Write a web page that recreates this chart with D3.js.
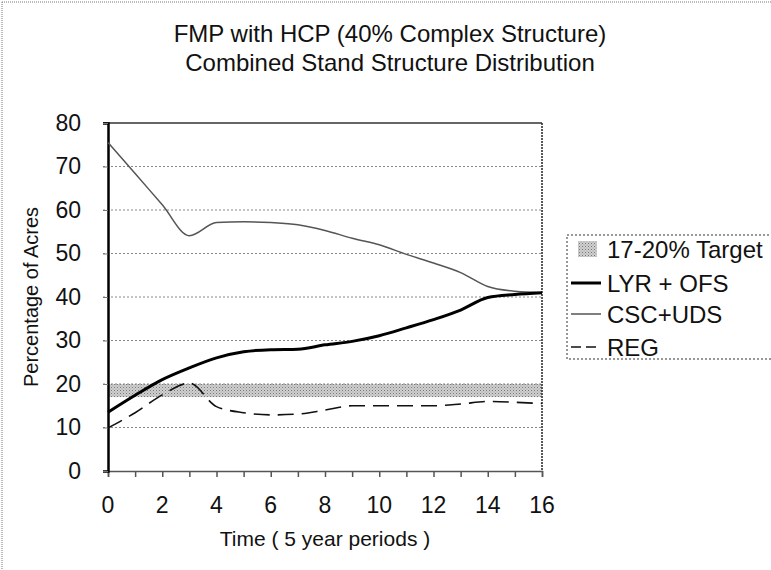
<!DOCTYPE html>
<html>
<head>
<meta charset="utf-8">
<script src="https://cdn.jsdelivr.net/npm/d3@7"></script>
<style>
  body { margin: 0; background: #fff; }
  text { font-family: "Liberation Sans", Arial, sans-serif; fill: #111; }
</style>
</head>
<body>
<div id="chart"></div>
<script>
// periods 0..16
const periods = d3.range(0, 17);
const lyrOfs = [13.5, 17.4, 21.0, 23.7, 26.0, 27.4, 27.9, 28.0, 29.0, 29.8, 31.1, 32.9, 34.8, 37.0, 39.9, 40.6, 41.0];
const cscUds = [75.5, 68.4, 61.2, 54.1, 57.1, 57.3, 57.1, 56.6, 55.3, 53.5, 52.0, 49.8, 47.8, 45.6, 42.4, 41.3, 41.0];
const reg    = [9.9, 13.4, 17.5, 20.2, 14.8, 13.4, 12.9, 13.1, 14.0, 15.0, 15.0, 15.0, 15.0, 15.4, 16.0, 15.8, 15.5];
const target = [17, 20];
const yTicks = [0, 10, 20, 30, 40, 50, 60, 70, 80];
const xTicks = [0, 2, 4, 6, 8, 10, 12, 14, 16];
const legendLabels = ["17-20% Target", "LYR + OFS", "CSC+UDS", "REG"];

const W = 771, H = 570;
const margin = {top: 123, left: 108, right: W - 542, bottom: H - 471};
const width = W - margin.left - margin.right,
    height = H - margin.top - margin.bottom;

const svg = d3.select('#chart').append('svg')
    .attr('width', W)
    .attr('height', H);

// stipple pattern for the target band
const defs = svg.append('defs');
const pat = defs.append('pattern')
    .attr('id', 'stipple')
    .attr('width', 3).attr('height', 3)
    .attr('patternUnits', 'userSpaceOnUse');
pat.append('rect').attr('width', 3).attr('height', 3).attr('fill', '#d0d0d0');
pat.append('rect').attr('width', 1).attr('height', 1).attr('fill', '#777');
pat.append('rect').attr('x', 1.5).attr('y', 1.5).attr('width', 1).attr('height', 1).attr('fill', '#999');

// outer chart border (dotted, top and left)
svg.append('line').attr('x1', 2).attr('x2', W).attr('y1', 2).attr('y2', 2)
    .attr('stroke', '#777').attr('stroke-dasharray', '1,1');
svg.append('line').attr('x1', 2).attr('x2', 2).attr('y1', 2).attr('y2', H)
    .attr('stroke', '#777').attr('stroke-dasharray', '1,1');

// title
const title = svg.append('text')
    .attr('text-anchor', 'middle')
    .attr('font-size', '24px');
title.append('tspan').attr('x', 390).attr('y', 42).text('FMP with HCP (40% Complex Structure)');
title.append('tspan').attr('x', 390).attr('y', 71).text('Combined Stand Structure Distribution');

const g = svg.append('g')
    .attr('transform', 'translate(' + margin.left + ',' + margin.top + ')');

const x = d3.scaleLinear().domain([0, 16]).range([0, width]);
const y = d3.scaleLinear().domain([0, 80]).range([height, 0]);

// target band
g.append('rect')
    .attr('x', 0)
    .attr('width', width)
    .attr('y', y(target[1]))
    .attr('height', y(target[0]) - y(target[1]))
    .attr('fill', 'url(#stipple)');

// gridlines
g.selectAll('.grid')
    .data(yTicks.filter(d => d > 0 && d < 80))
    .enter().append('line')
    .attr('class', 'grid')
    .attr('x1', -5).attr('x2', width)
    .attr('y1', d => y(d)).attr('y2', d => y(d))
    .attr('stroke', '#888')
    .attr('stroke-width', 1)
    .attr('stroke-dasharray', '2,2');

// plot border top and right
g.append('line').attr('x1', -5).attr('x2', width).attr('y1', 0).attr('y2', 0)
    .attr('stroke', '#333').attr('stroke-width', 1.5);
g.append('line').attr('x1', width).attr('x2', width).attr('y1', 0).attr('y2', height)
    .attr('stroke', '#222').attr('stroke-width', 1.5).attr('stroke-dasharray', '2,1');

// axes
const xAxis = d3.axisBottom(x).tickValues(periods).tickSize(6).tickFormat('');
g.append('g')
    .attr('transform', 'translate(0,' + height + ')')
    .call(xAxis)
    .call(s => s.select('.domain').attr('stroke', '#555').attr('stroke-width', 1.5))
    .call(s => s.selectAll('.tick line').attr('stroke', '#555').attr('stroke-width', 1.5));

g.selectAll('.xlab')
    .data(xTicks)
    .enter().append('text')
    .attr('class', 'xlab')
    .attr('x', d => x(d))
    .attr('y', height + 42)
    .attr('text-anchor', 'middle')
    .attr('font-size', '23px')
    .text(d => d);

const yAxis = d3.axisLeft(y).tickValues(yTicks).tickSize(5).tickPadding(22);
g.append('g')
    .call(yAxis)
    .call(s => s.select('.domain').attr('stroke', '#000').attr('stroke-width', 2.5))
    .call(s => s.selectAll('.tick line').attr('stroke', '#777'))
    .call(s => s.selectAll('.tick text')
        .attr('font-size', '23px')
        .attr('font-family', '"Liberation Sans", Arial, sans-serif')
        .attr('fill', '#111'));

// axis titles
svg.append('text')
    .attr('transform', 'translate(33,' + (margin.top + height / 2) + ') rotate(-90)')
    .attr('text-anchor', 'middle')
    .attr('dominant-baseline', 'middle')
    .attr('font-size', '20px')
    .text('Percentage of Acres');

svg.append('text')
    .attr('x', margin.left + width / 2)
    .attr('y', 546)
    .attr('text-anchor', 'middle')
    .attr('font-size', '21px')
    .text('Time ( 5 year periods )');

// lines
const line = d3.line()
    .x((d, i) => x(periods[i]))
    .y(d => y(d))
    .curve(d3.curveMonotoneX);

g.append('path')
    .datum(cscUds)
    .attr('d', line)
    .attr('fill', 'none')
    .attr('stroke', '#555')
    .attr('stroke-width', 1.5);

g.append('path')
    .datum(reg)
    .attr('d', line)
    .attr('fill', 'none')
    .attr('stroke', '#111')
    .attr('stroke-width', 1.6)
    .attr('stroke-dasharray', '16,8');

g.append('path')
    .datum(lyrOfs)
    .attr('d', line)
    .attr('fill', 'none')
    .attr('stroke', '#000')
    .attr('stroke-width', 3);

// legend
const lg = svg.append('g').attr('transform', 'translate(567,235)');
lg.append('rect')
    .attr('width', 220).attr('height', 124)
    .attr('fill', '#fff')
    .attr('stroke', '#333')
    .attr('stroke-dasharray', '2,2');

const rowY = [14, 48, 79, 112];
const items = lg.selectAll('.item')
    .data(legendLabels)
    .enter().append('g')
    .attr('class', 'item')
    .attr('transform', (d, i) => 'translate(0,' + rowY[i] + ')');

items.append('text')
    .attr('x', 40)
    .attr('dy', '0.36em')
    .attr('font-size', '24px')
    .text(d => d);

items.filter((d, i) => i === 0).append('rect')
    .attr('x', 11).attr('y', -8).attr('width', 19).attr('height', 16)
    .attr('fill', 'url(#stipple)');
items.filter((d, i) => i === 1).append('line')
    .attr('x1', 4).attr('x2', 34).attr('stroke', '#000').attr('stroke-width', 3);
items.filter((d, i) => i === 2).append('line')
    .attr('x1', 4).attr('x2', 34).attr('stroke', '#555').attr('stroke-width', 1.5);
items.filter((d, i) => i === 3).append('line')
    .attr('x1', 4).attr('x2', 34).attr('stroke', '#111').attr('stroke-width', 1.6)
    .attr('stroke-dasharray', '10,5');
</script>
</body>
</html>
